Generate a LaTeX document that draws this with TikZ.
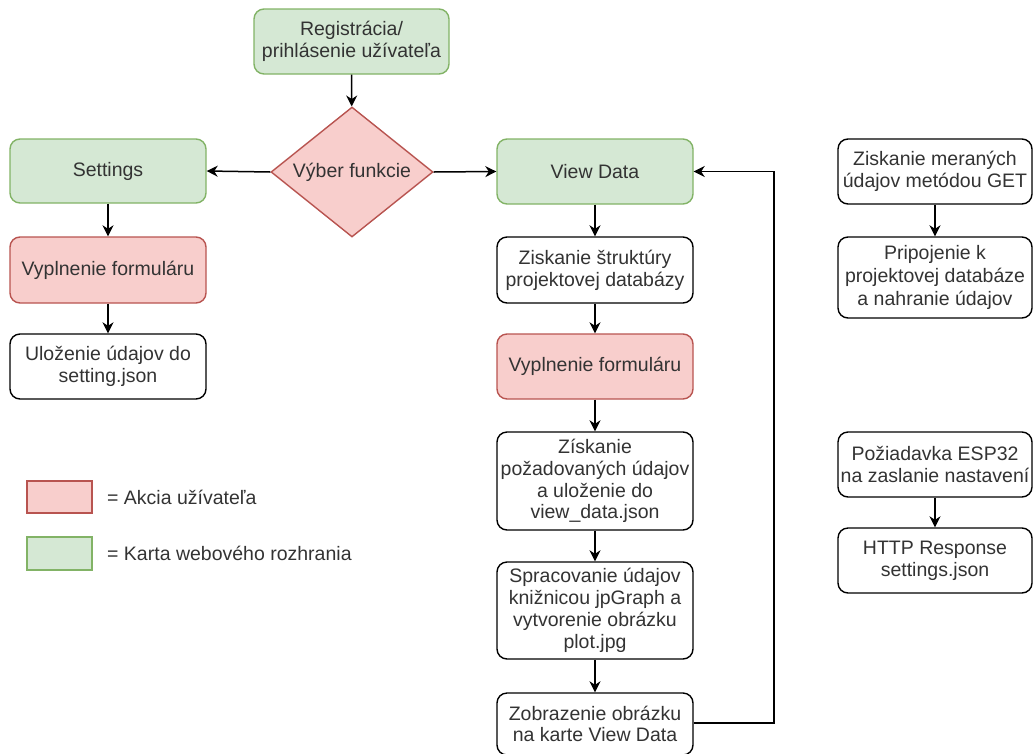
\documentclass[tikz,border=0pt]{standalone}
\usepackage{fontspec}
\setmainfont{Liberation Sans}
\usetikzlibrary{shapes.geometric,arrows.meta}
\definecolor{gfill}{HTML}{D5E8D4}
\definecolor{gline}{HTML}{82B366}
\definecolor{rfill}{HTML}{F8CECC}
\definecolor{rline}{HTML}{B85450}
\definecolor{txt}{HTML}{333333}
\begin{document}
\begin{tikzpicture}[x=1pt,y=-1pt,
  every node/.style={font=\fontsize{19.5}{21.8}\selectfont, text=txt},
  box/.style={draw=black, line width=1.4pt, rounded corners=10pt, fill=white,
    minimum width=196pt, align=center, inner sep=0pt},
  gbox/.style={box, draw=gline, fill=gfill},
  rbox/.style={box, draw=rline, fill=rfill},
  legbox/.style={line width=1.4pt, minimum width=65pt, minimum height=32pt, inner sep=0pt},
  arr/.style={-{Stealth[length=11pt,width=11pt,inset=3.5pt]}, line width=1.5pt, draw=black}
]
\useasboundingbox (0,0) rectangle (1033,753);

% top
\node[gbox, minimum width=195pt, minimum height=65pt] (reg) at (351.5,41.5) {Registrácia/\\prihlásenie užívateľa};
\node[diamond, aspect=1.246, draw=rline, fill=rfill, line width=1.4pt, inner sep=0pt,
  minimum width=162pt, minimum height=130pt] (vyber) at (352,172) {Výber funkcie};

% left column
\node[gbox, minimum height=64pt] (set) at (108,171) {Settings};
\node[rbox, minimum height=66pt] (vypL) at (108,270) {Vyplnenie formuláru};
\node[box, minimum height=65pt] (ulo) at (108,366.5) {Uloženie údajov do\\setting.json};

% middle column
\node[gbox, minimum height=65pt] (vd) at (595,171.5) {View Data};
\node[box, minimum height=66pt] (str) at (595,270) {Ziskanie štruktúry\\projektovej databázy};
\node[rbox, minimum height=65pt] (vypM) at (595,366.5) {Vyplnenie formuláru};
\node[box, minimum height=98pt] (zisk) at (595,481) {Získanie\\požadovaných údajov\\a uloženie do\\view\_data.json};
\node[box, minimum height=97pt] (spr) at (595,610.5) {Spracovanie údajov\\knižnicou jpGraph a\\vytvorenie obrázku\\plot.jpg};
\node[box, minimum height=62pt] (zob) at (595,724) {Zobrazenie obrázku\\na karte View Data};

% right column
\node[box, minimum width=194pt, minimum height=65pt] (get) at (935,171.5) {Ziskanie meraných\\údajov metódou GET};
\node[box, minimum width=194pt, minimum height=81pt, font=\fontsize{19.5}{22.8}\selectfont] (pri) at (935,277.5) {Pripojenie k\\projektovej databáze\\a nahranie údajov};
\node[box, minimum width=194pt, minimum height=65pt] (esp) at (935,464.5) {Požiadavka ESP32\\na zaslanie nastavení};
\node[box, minimum width=194pt, minimum height=65pt] (http) at (935,560.5) {HTTP Response\\settings.json};

% legend
\node[legbox, draw=rline, fill=rfill] (lr) at (59.5,497) {};
\node[legbox, draw=gline, fill=gfill, minimum height=33pt] (lg) at (59.5,553.5) {};
\node[anchor=west, inner sep=0pt] (lrt) at (107,497) {= Akcia užívateľa};
\node[anchor=west, inner sep=0pt] (lgt) at (107,553.5) {= Karta webového rozhrania};

% connectors
\draw[arr] (reg) -- (vyber);
\draw[arr] (vyber.west) -- (set.east);
\draw[arr] (vyber.east) -- (vd.west);
\draw[arr] (set) -- (vypL);
\draw[arr] (vypL) -- (ulo);
\draw[arr] (vd) -- (str);
\draw[arr] (str) -- (vypM);
\draw[arr] (vypM) -- (zisk);
\draw[arr] (zisk) -- (spr);
\draw[arr] (spr) -- (zob);
\coordinate (loop) at (774,0);
\draw[arr] (zob.east |- 0,723) -- (loop |- 0,723) -- (loop |- vd.east) -- (vd.east);
\draw[arr] (get) -- (pri);
\draw[arr] (esp) -- (http);
\end{tikzpicture}
\end{document}
